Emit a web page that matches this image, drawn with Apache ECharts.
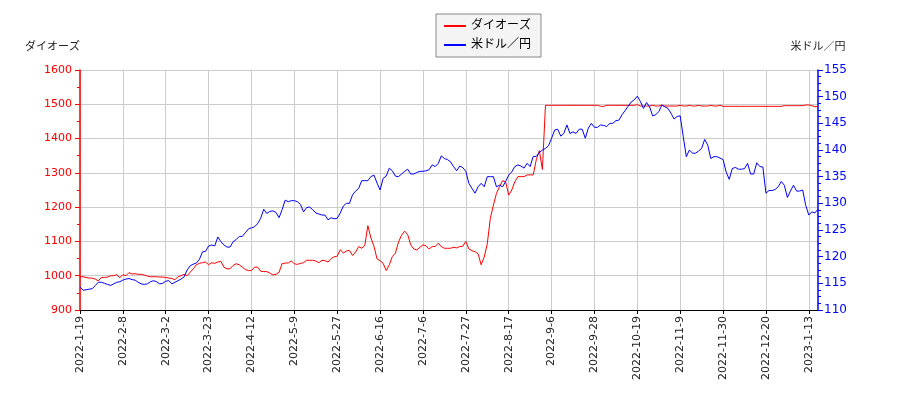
<!DOCTYPE html>
<html>
<head>
<meta charset="utf-8">
<script src="https://cdn.jsdelivr.net/npm/echarts@6/dist/echarts.min.js"></script>
<style>
  html, body { margin: 0; padding: 0; background: #fff; }
  #chart { width: 900px; height: 400px; }
</style>
</head>
<body>
<div id="chart"></div>
<script>
// series names / axis names
var nameStock = 'ダイオーズ';
var nameFx = '米ドル／円';

// tick labels shown on the x axis (every 14th trading day)
var tickLabels = ['2022-1-19', '2022-2-8', '2022-3-2', '2022-3-23', '2022-4-12', '2022-5-9',
  '2022-5-27', '2022-6-16', '2022-7-6', '2022-7-27', '2022-8-17', '2022-9-6', '2022-9-28',
  '2022-10-19', '2022-11-9', '2022-11-30', '2022-12-20', '2023-1-13'];

// days with no data (weekends are skipped as well)
var closedDays = ['2022-2-11', '2022-2-23', '2022-3-21', '2022-4-29', '2022-5-2', '2022-5-3',
  '2022-5-4', '2022-5-5', '2022-7-18', '2022-8-11', '2022-9-19', '2022-9-23', '2022-10-10',
  '2022-11-3', '2022-11-23', '2022-12-30', '2023-1-2', '2023-1-3', '2023-1-9'];

// ダイオーズ share price (left axis)
var stockValues = [
  997, 997, 995, 993, 993, 990, 985, 995, 995, 996,
  1000, 1000, 1003, 994, 1003, 1000, 1009, 1005, 1006, 1004,
  1004, 1002, 999, 997, 997, 997, 996, 996, 995, 993,
  992, 988, 997, 1000, 1004, 1000, 1010, 1020, 1032, 1036,
  1038, 1040, 1032, 1038, 1036, 1040, 1042, 1025, 1020,
  1020, 1030, 1035, 1032, 1025, 1018, 1015, 1015, 1025, 1025,
  1013, 1012, 1012, 1008, 1002, 1004, 1010, 1035, 1037, 1037,
  1043, 1035, 1033, 1036, 1038, 1045, 1045, 1045, 1043, 1038,
  1045, 1044, 1040, 1050, 1055, 1057, 1076, 1066, 1072, 1074,
  1059, 1069, 1085, 1080, 1088, 1146, 1110, 1086,
  1049, 1044, 1036, 1015, 1032, 1056, 1066, 1098, 1118, 1130,
  1120, 1090, 1078, 1075, 1083, 1090, 1087, 1078, 1085, 1085,
  1095, 1085, 1080, 1080, 1080, 1083, 1081, 1085, 1086, 1100,
  1078, 1073, 1070, 1064, 1032, 1054, 1093, 1167, 1206, 1240,
  1260, 1277, 1274, 1235, 1250, 1274, 1289, 1289, 1289, 1294,
  1294, 1294, 1338, 1365, 1310,
  1497, 1497, 1497, 1497, 1497, 1497, 1497, 1497, 1497, 1497,
  1497, 1497, 1497, 1497, 1497, 1497, 1497, 1497, 1494, 1494,
  1497, 1497, 1497, 1497, 1497, 1497, 1497, 1497, 1497, 1497,
  1499, 1495, 1495, 1495, 1495, 1497, 1495, 1495, 1498, 1495,
  1495, 1495, 1495, 1495, 1497, 1495, 1495, 1497, 1495, 1495,
  1497, 1495, 1495, 1495, 1497, 1495, 1495, 1497, 1494, 1494,
  1494, 1494, 1494, 1494, 1494, 1494, 1494, 1494, 1494, 1494,
  1494, 1494, 1494, 1494, 1494, 1494, 1494, 1494, 1496, 1496,
  1496, 1496, 1496, 1496, 1496, 1498, 1498, 1496, 1493, 1493
];

// USD/JPY (right axis)
var fxValues = [
  114.3, 113.7, 113.8, 113.9, 114.0, 114.6, 115.2, 115.2, 115.0, 114.8,
  114.6, 114.9, 115.2, 115.3, 115.6, 115.8, 115.9, 115.7, 115.6, 115.2,
  114.9, 114.8, 114.9, 115.3, 115.5, 115.3, 114.9, 115.0, 115.4, 115.5,
  114.9, 115.2, 115.5, 115.8, 116.2, 117.5, 118.3, 118.6, 118.8, 119.5,
  120.9, 121.0, 122.0, 122.2, 122.0, 123.7, 122.8, 122.2, 121.8,
  121.8, 122.8, 123.2, 123.8, 123.8, 124.5, 125.2, 125.4, 125.6, 126.2,
  127.2, 128.9, 128.1, 128.5, 128.6, 128.3, 127.3, 128.8, 130.6, 130.3,
  130.5, 130.5, 130.3, 129.8, 128.4, 129.2, 129.3, 128.8, 128.2, 128.0,
  127.8, 127.8, 126.9, 127.3, 127.1, 127.2, 128.2, 129.5, 130.0, 130.0,
  131.6, 132.3, 132.8, 134.25, 134.25, 134.25, 135.0, 135.3,
  133.8, 132.5, 134.7, 135.1, 136.6, 136.1, 135.1, 135.0, 135.5, 136.0,
  136.4, 135.5, 135.5, 135.8, 136.0, 136.0, 136.1, 136.3, 137.2, 136.9,
  137.5, 138.9, 138.4, 138.2, 137.8, 136.9, 136.1, 137.0, 136.7, 136.0,
  133.75, 132.8, 131.9, 133.1, 133.75, 133.1, 135.0, 135.0, 135.0, 133.1,
  133.4, 133.1, 134.1, 135.3, 135.9, 136.9, 137.2, 137.0, 136.6, 137.5,
  136.9, 138.8, 138.8, 139.5, 140.0,
  140.3, 140.8, 142.2, 143.75, 143.9, 142.6, 143.1, 144.7, 143.1, 143.4,
  143.1, 143.9, 143.9, 142.2, 144.1, 145.0, 144.25, 144.25, 144.7, 144.6,
  144.4, 145.0, 145.0, 145.5, 145.6, 146.6, 147.4, 148.2, 149.0, 149.4,
  150.1, 149.1, 147.8, 148.9, 148.1, 146.4, 146.6, 147.2, 148.4, 148.1,
  147.8, 146.9, 145.8, 146.3,
  146.4, 142.5, 138.75, 140.0, 139.4, 139.4, 139.8, 140.3, 142.0, 140.9,
  138.4, 138.75, 138.75, 138.5, 138.2, 135.9, 134.5, 136.5, 136.75, 136.4,
  136.4, 136.5, 137.5, 135.5, 135.5, 137.6, 136.9, 136.8, 131.9, 132.4,
  132.4, 132.6, 133.1, 134.1, 133.4, 131.1, 132.3, 133.4, 132.3, 132.3,
  132.5, 129.6, 127.8, 128.4, 128.2, 128.9
];

// build the trading-day categories, one per value
function fmt(d) {
  return d.getFullYear() + '-' + (d.getMonth() + 1) + '-' + d.getDate();
}
var dates = [];
var d = new Date(2022, 0, 19);
while (dates.length < stockValues.length) {
  var s = fmt(d);
  var wd = d.getDay();
  if (wd !== 0 && wd !== 6 && closedDays.indexOf(s) < 0) dates.push(s);
  d.setDate(d.getDate() + 1);
}

var font = 'DejaVu Sans, Noto Sans CJK JP, sans-serif';
var myChart = echarts.init(document.getElementById('chart'));

var option = {
  animation: false,
  backgroundColor: '#ffffff',
  textStyle: { fontFamily: font },
  legend: {
    data: [nameStock, nameFx],
    orient: 'vertical',
    left: 436,
    top: 14,
    icon: 'rect',
    itemWidth: 22,
    itemHeight: 2,
    itemGap: 7,
    padding: [6, 10, 6, 8],
    backgroundColor: '#f4f4f4',
    borderColor: '#888888',
    borderWidth: 1,
    borderRadius: 0,
    textStyle: { fontSize: 12, color: '#000', fontFamily: font }
  },
  grid: {
    left: 80,
    right: 82,
    top: 70,
    bottom: 90
  },
  xAxis: {
    type: 'category',
    boundaryGap: false,
    data: dates,
    axisLine: { lineStyle: { color: '#000', width: 1 } },
    axisTick: { show: true, interval: 13, length: 4, lineStyle: { color: '#000' } },
    axisLabel: {
      interval: 13,
      rotate: 90,
      fontSize: 11,
      color: '#222',
      margin: 6,
      fontFamily: font
    },
    splitLine: { show: true, interval: 13, lineStyle: { color: '#cccccc', width: 1 } }
  },
  yAxis: [{
    type: 'value',
    name: nameStock,
    nameLocation: 'end',
    nameGap: 17,
    nameTextStyle: { color: '#222', fontSize: 11, align: 'right', fontFamily: font },
    min: 900,
    max: 1600,
    interval: 100,
    position: 'left',
    axisLine: { show: true, lineStyle: { color: '#ff0000', width: 1.5 } },
    axisTick: { show: true, length: 5, lineStyle: { color: '#ff0000' } },
    minorTick: { show: true, splitNumber: 2, length: 3, lineStyle: { color: '#ff0000' } },
    axisLabel: {
      color: '#ff0000', fontSize: 11, margin: 8, fontFamily: font,
      formatter: function (v) { return String(v); }
    },
    splitLine: { show: true, lineStyle: { color: '#cccccc', width: 1 } }
  }, {
    type: 'value',
    name: nameFx,
    nameLocation: 'end',
    nameGap: 17,
    nameTextStyle: { color: '#222', fontSize: 11, fontFamily: font },
    min: 110,
    max: 155,
    interval: 5,
    position: 'right',
    axisLine: { show: true, lineStyle: { color: '#0000ff', width: 1.5 } },
    axisTick: { show: true, length: 5, lineStyle: { color: '#0000ff' } },
    minorTick: { show: true, splitNumber: 4, length: 3, lineStyle: { color: '#0000ff' } },
    axisLabel: {
      color: '#0000ff', fontSize: 12, margin: 6, fontFamily: font,
      formatter: function (v) { return String(v); }
    },
    splitLine: { show: false }
  }],
  series: [{
    name: nameStock,
    type: 'line',
    yAxisIndex: 0,
    data: stockValues,
    showSymbol: false,
    symbol: 'none',
    color: '#ff0000',
    lineStyle: { color: '#ff0000', width: 1 }
  }, {
    name: nameFx,
    type: 'line',
    yAxisIndex: 1,
    data: fxValues,
    showSymbol: false,
    symbol: 'none',
    color: '#0000ff',
    lineStyle: { color: '#0000ff', width: 1 }
  }]
};

myChart.setOption(option);
</script>
</body>
</html>
